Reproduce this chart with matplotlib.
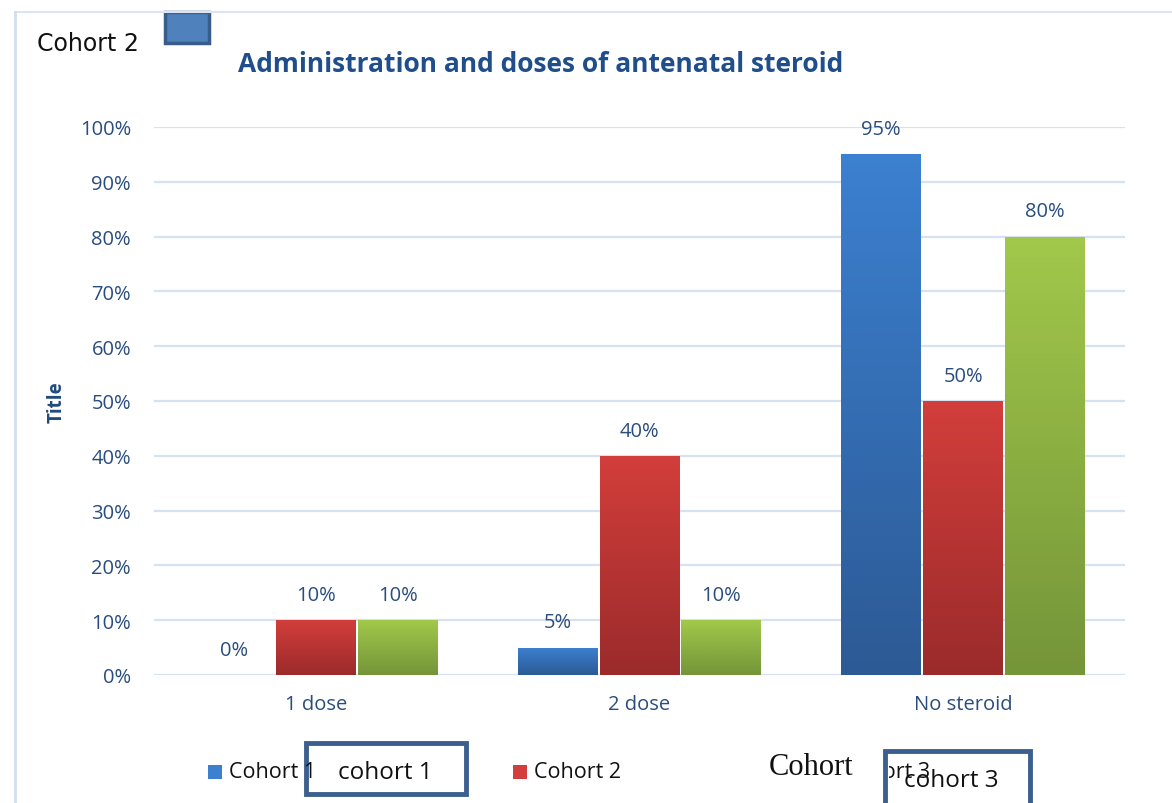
import numpy as np
import matplotlib
matplotlib.use('Agg')
import matplotlib.pyplot as plt
from matplotlib.patches import Rectangle
from matplotlib.ticker import PercentFormatter

categories = ['1 dose', '2 dose', 'No steroid']
cohort1 = [0, 5, 95]
cohort2 = [10, 40, 50]
cohort3 = [10, 10, 80]
series_names = ['Cohort 1', 'Cohort 2', 'Cohort 3']
tops = ['#3c80d0', '#d23e3b', '#a2c84b']
bottoms = ['#2c5a95', '#9b2b2b', '#759539']

label_col = '#2a4d7f'
plt.rcParams['font.family'] = ['Open Sans', 'DejaVu Sans']

W, H = 1172, 804
fig = plt.figure(figsize=(W / 100, H / 100), dpi=100)


def px(x0, y0, x1, y1):
    return [x0 / W, 1 - y1 / H, (x1 - x0) / W, (y1 - y0) / H]


ax = fig.add_axes(px(154, 128, 1125, 676))
x = np.arange(len(categories))
width = 0.247
step = 0.253

for i, vals in enumerate([cohort1, cohort2, cohort3]):
    bars = ax.bar(x + (i - 1) * step, vals, width, color=tops[i], zorder=3,
                  label=series_names[i])
    c0 = np.array(matplotlib.colors.to_rgb(tops[i]))
    c1 = np.array(matplotlib.colors.to_rgb(bottoms[i]))
    grad = np.linspace(0, 1, 64)[:, None, None]
    img = c0 * (1 - grad) + c1 * grad
    for b, v in zip(bars, vals):
        bx = b.get_x()
        if v > 0:
            im = ax.imshow(img, extent=[bx, bx + b.get_width(), 0, v],
                           aspect='auto', zorder=3, origin='upper')
            im.set_clip_path(b)
        ax.text(bx + b.get_width() / 2, v + 4.6, f'{v}%', ha='center', va='center',
                fontsize=14.5, color=label_col, zorder=5)

ax.set_xlim(-0.5, 2.5)
ax.set_ylim(0, 100)
ax.set_yticks(np.arange(0, 101, 10))
ax.yaxis.set_major_formatter(PercentFormatter(100, decimals=0))
ax.set_xticks(x)
ax.set_xticklabels(categories)
ax.tick_params(axis='both', length=0, labelsize=14.5, colors=label_col)
ax.tick_params(axis='y', pad=16.5)
ax.tick_params(axis='x', pad=14)
ax.grid(axis='y', color='#d6e2f2', linewidth=1.6, zorder=0)
for s in ax.spines.values():
    s.set_visible(False)
ax.set_facecolor('none')

fig.text(57 / W, 1 - 402 / H, 'Title', rotation=90, ha='center', va='center',
         fontsize=13.5, fontweight='bold', color='#1f4a7c')
fig.text(541 / W, 1 - 65 / H, 'Administration and doses of antenatal steroid',
         ha='center', va='center', fontsize=19, fontweight='bold', color='#1f4e8a')

# outer frame lines
fig.add_artist(plt.Line2D([15 / W, 1], [1 - 13 / H, 1 - 13 / H], color='#dbe4f0', lw=1.5))
fig.add_artist(plt.Line2D([15 / W, 15 / W], [0, 1 - 13 / H], color='#d3dff0', lw=2))

# top-left overlay
fig.text(37 / W, 1 - 44 / H, 'Cohort 2', fontsize=17, color='#111111',
         family='DejaVu Sans', va='center')
fig.add_artist(Rectangle((165 / W, 1 - 44 / H), 44 / W, 31 / H,
                         transform=fig.transFigure, facecolor='#4f81bd',
                         edgecolor='#385d8a', lw=2.5))

# legend
leg_y = 1 - 773 / H
for xs, name, col, z in [(208, 'Cohort 1', tops[0], 7), (513, 'Cohort 2', tops[1], 3),
                         (822, 'Cohort 3', tops[2], 3)]:
    fig.add_artist(Rectangle((xs / W, 1 - 780 / H), 14 / W, 14 / H,
                             transform=fig.transFigure, facecolor=col, edgecolor='none'))
    fig.text((xs + 21) / W, leg_y, name, fontsize=15.5, color='#111111', va='center',
             zorder=z)

# pasted boxes over legend
fig.add_artist(Rectangle((760 / W, 1 - 800 / H), 129 / W, 60 / H,
                         transform=fig.transFigure, facecolor='white', edgecolor='none',
                         zorder=4))
fig.text(769 / W, 1 - 768 / H, 'Cohort', fontsize=22, family='Liberation Serif',
         color='#111111', va='center', zorder=5)
fig.add_artist(Rectangle((306 / W, 1 - 795 / H), 160 / W, 51 / H,
                         transform=fig.transFigure, facecolor='none',
                         edgecolor='#3d5f8f', lw=3.5, zorder=5))
fig.text(338 / W, 1 - 773 / H, 'cohort 1', fontsize=17.5, color='#111111', va='center',
         zorder=6)
fig.add_artist(Rectangle((885 / W, -0.02), 145 / W, (804 - 752) / H + 0.02,
                         transform=fig.transFigure, facecolor='none',
                         edgecolor='#3d5f8f', lw=3.5, zorder=5))
fig.text(904 / W, 1 - 781 / H, 'cohort 3', fontsize=17.5, color='#111111', va='center',
         zorder=6)

fig.savefig('out.png', dpi=100)
